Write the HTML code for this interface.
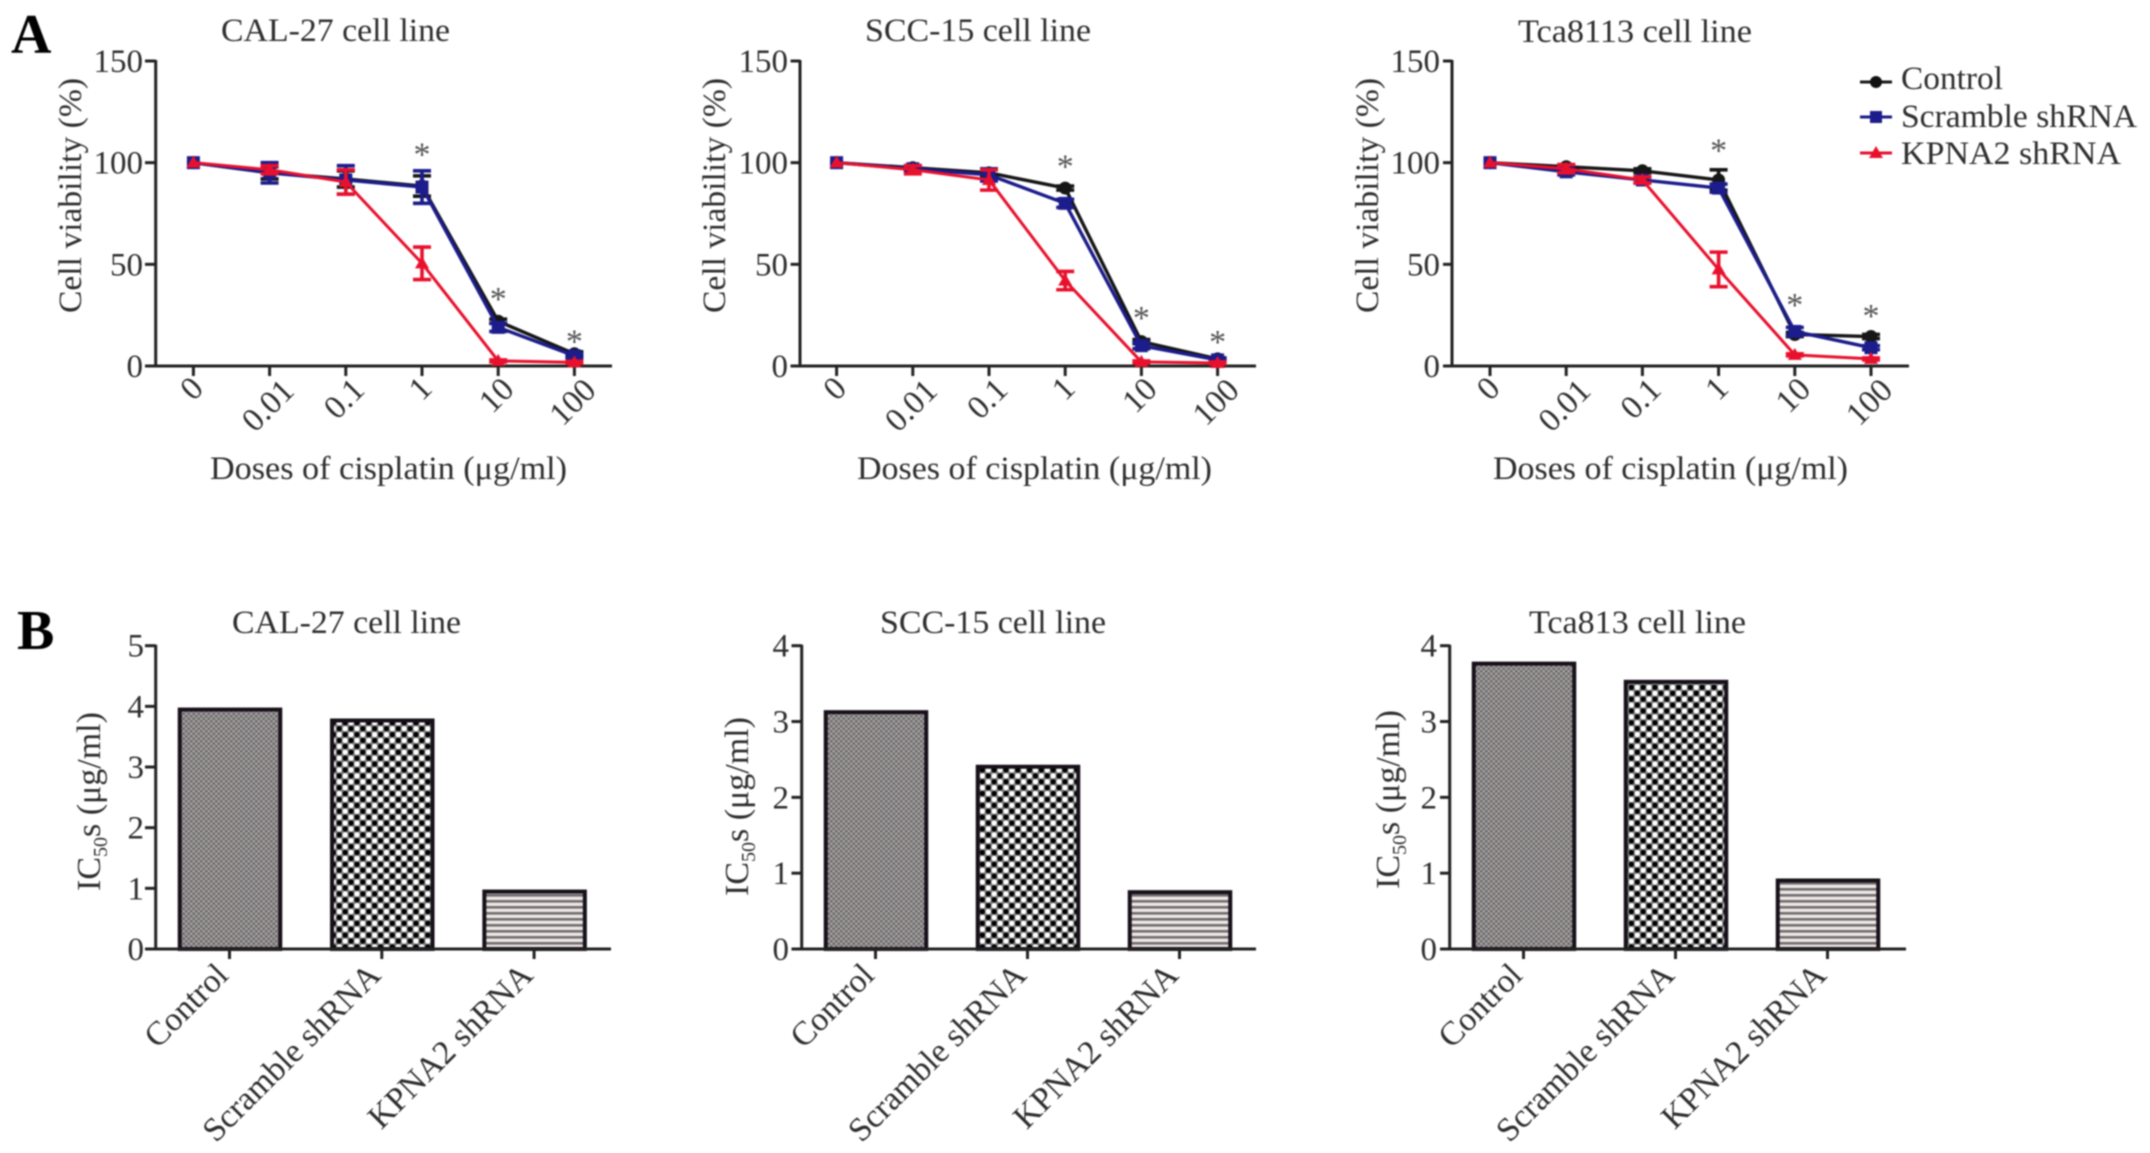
<!DOCTYPE html>
<html lang="en">
<head>
<meta charset="utf-8">
<title>Cisplatin cell viability and IC50 charts</title>
<style>
html,body{margin:0;padding:0;background:#fff;width:2150px;height:1153px;overflow:hidden}
svg{display:block;filter:blur(0.7px)}
text{font-family:"Liberation Serif","Noto Serif CJK SC",serif;fill:#2e2e2e}
.title{font-size:33px}
.axt{font-size:33px}
.tick{font-size:33px}
.leg{font-size:33px}
.letter{font-size:56px;font-weight:bold;fill:#000}
</style>
</head>
<body>
<svg id="fig" xmlns="http://www.w3.org/2000/svg" width="2150" height="1153" viewBox="0 0 2150 1153">
  <defs>
    <pattern id="pat-fine" width="5" height="5" patternUnits="userSpaceOnUse">
      <rect width="5" height="5" fill="#a8a2a3"/>
      <rect width="2.5" height="2.5" fill="#6a6a6a"/>
      <rect x="2.5" y="2.5" width="2.5" height="2.5" fill="#6a6a6a"/>
    </pattern>
    <pattern id="pat-dots" width="11.8" height="11.8" patternUnits="userSpaceOnUse">
      <rect width="11.8" height="11.8" fill="#7d7d7d"/>
      <circle cx="2.95" cy="2.95" r="2.7" fill="#000"/>
      <circle cx="8.85" cy="8.85" r="2.7" fill="#000"/>
      <circle cx="8.85" cy="2.95" r="2.7" fill="#fff"/>
      <circle cx="2.95" cy="8.85" r="2.7" fill="#fff"/>
    </pattern>
    <pattern id="pat-lines" width="6" height="6" patternUnits="userSpaceOnUse">
      <rect width="6" height="6" fill="#efe4e4"/>
      <rect y="0" width="6" height="2.6" fill="#6e6e6e"/>
    </pattern>
  </defs>
  <rect width="2150" height="1153" fill="#fff"/>

  <text class="letter" x="11" y="53">A</text>
  <text class="letter" x="17" y="649">B</text>

  <text class="title" x="221" y="41" textLength="229" lengthAdjust="spacingAndGlyphs">CAL-27 cell line</text>
  <text class="title" x="865" y="41" textLength="226" lengthAdjust="spacingAndGlyphs">SCC-15 cell line</text>
  <text class="title" x="1518" y="42" textLength="234" lengthAdjust="spacingAndGlyphs">Tca8113 cell line</text>
  <text class="title" x="232" y="633" textLength="229" lengthAdjust="spacingAndGlyphs">CAL-27 cell line</text>
  <text class="title" x="880" y="633" textLength="226" lengthAdjust="spacingAndGlyphs">SCC-15 cell line</text>
  <text class="title" x="1529" y="633" textLength="217" lengthAdjust="spacingAndGlyphs">Tca813 cell line</text>

  <text class="axt" x="210" y="479" textLength="357" lengthAdjust="spacingAndGlyphs">Doses of cisplatin (μg/ml)</text>
  <text class="axt" x="857" y="479" textLength="355" lengthAdjust="spacingAndGlyphs">Doses of cisplatin (μg/ml)</text>
  <text class="axt" x="1493" y="479" textLength="355" lengthAdjust="spacingAndGlyphs">Doses of cisplatin (μg/ml)</text>

  <text class="axt" transform="translate(81,313) rotate(-90)" textLength="235" lengthAdjust="spacingAndGlyphs">Cell viability (%)</text>
  <text class="axt" transform="translate(725,313) rotate(-90)" textLength="235" lengthAdjust="spacingAndGlyphs">Cell viability (%)</text>
  <text class="axt" transform="translate(1378,313) rotate(-90)" textLength="235" lengthAdjust="spacingAndGlyphs">Cell viability (%)</text>

  <text class="axt" style="font-size:34px" transform="translate(100,891) rotate(-90)">IC<tspan font-size="20" dy="7">50</tspan><tspan dy="-7">s (μg/ml)</tspan></text>
  <text class="axt" style="font-size:34px" transform="translate(748,896) rotate(-90)">IC<tspan font-size="20" dy="7">50</tspan><tspan dy="-7">s (μg/ml)</tspan></text>
  <text class="axt" style="font-size:34px" transform="translate(1399,889) rotate(-90)">IC<tspan font-size="20" dy="7">50</tspan><tspan dy="-7">s (μg/ml)</tspan></text>

  <g id="legend">
    <g>
      <line x1="1860" x2="1892" y1="82" y2="82" stroke="#1a1a1a" stroke-width="3"/>
      <circle cx="1876" cy="82" r="6" fill="#111"/>
      <text class="leg" x="1901" y="89" textLength="102" lengthAdjust="spacingAndGlyphs">Control</text>
    </g>
    <g>
      <line x1="1860" x2="1892" y1="117" y2="117" stroke="#1c1c8c" stroke-width="3"/>
      <rect x="1870" y="111" width="12" height="12" fill="#1c1c8c"/>
      <text class="leg" x="1901" y="127" textLength="236" lengthAdjust="spacingAndGlyphs">Scramble shRNA</text>
    </g>
    <g>
      <line x1="1860" x2="1892" y1="153" y2="153" stroke="#e8112d" stroke-width="3"/>
      <polygon points="1876,146 1883,158 1869,158" fill="#e8112d"/>
      <text class="leg" x="1901" y="164" textLength="220" lengthAdjust="spacingAndGlyphs">KPNA2 shRNA</text>
    </g>
  </g>
</svg>

<script>
// ---- shared categories and ticks ----
const doseCategories = ["0", "0.01", "0.1", "1", "10", "100"];
const viabilityTicks = [0, 50, 100, 150];
const groupCategories = ["Control", "Scramble shRNA", "KPNA2 shRNA"];
const ic50TicksCal27 = [0, 1, 2, 3, 4, 5];
const ic50TicksScc15 = [0, 1, 2, 3, 4];
const ic50TicksTca813 = [0, 1, 2, 3, 4];

// ---- panel A: CAL-27 ----
const cal27Control = [100, 95, 92, 88.5, 22, 6];
const cal27ControlErr = [0, 3, 4, 5, 1, 1];
const cal27Scramble = [100, 95, 91.5, 88, 19, 5];
const cal27ScrambleErr = [0, 5, 7, 8, 2, 1];
const cal27Kpna2 = [100, 96.5, 90.5, 50.5, 2.5, 1.8];
const cal27Kpna2Err = [0, 2, 6, 8, 0.5, 0.5];
const cal27Stars = [null, null, null, 106, 35, 14];

// ---- panel A: SCC-15 ----
const scc15Control = [100, 97.5, 95, 87.5, 12, 3.5];
const scc15ControlErr = [0, 1, 2, 1, 1, 0.5];
const scc15Scramble = [100, 97, 94, 80, 10, 3];
const scc15ScrambleErr = [0, 1, 3, 2, 1.5, 0.5];
const scc15Kpna2 = [100, 96.5, 91.5, 42, 2, 1.5];
const scc15Kpna2Err = [0, 2, 5, 4.5, 0.5, 0.5];
const scc15Stars = [null, null, null, 100, 25.6, 13.8];

// ---- panel A: Tca8113 ----
const tca8113Control = [100, 98, 96, 91.5, 15.5, 14.5];
const tca8113ControlErr = [0, 1, 1, 5, 1, 1];
const tca8113Scramble = [100, 95.5, 91.5, 87.5, 17, 9];
const tca8113ScrambleErr = [0, 1.5, 1.5, 2, 2, 1];
const tca8113Kpna2 = [100, 97, 91.5, 47.5, 5.5, 3.5];
const tca8113Kpna2Err = [0, 2, 1.5, 8.5, 0.5, 0.5];
const tca8113Stars = [null, null, null, 108, 32, 26.5];

// ---- panel B ----
const ic50Cal27 = [3.98, 3.8, 0.98];
const ic50Scc15 = [3.15, 2.43, 0.776];
const ic50Tca813 = [3.79, 3.55, 0.93];

const svg = document.getElementById('fig');
const NS = 'http://www.w3.org/2000/svg';
function mk(parent, tag, attrs, text) {
  const el = document.createElementNS(NS, tag);
  for (const k in attrs) el.setAttribute(k, attrs[k]);
  if (text !== undefined) el.textContent = text;
  parent.appendChild(el);
  return el;
}
const AXIS = '#222';
const SERIES_COLORS = ['#161616', '#1c1c8c', '#e8112d'];
const SERIES_WIDTHS = [3.4, 3.4, 3];
const SERIES_NAMES = ['control', 'scramble-shrna', 'kpna2-shrna'];

function drawAxes(g, cfg, yScale, ticks, tickX) {
  const yLine = mk(g, 'line', {x1: cfg.axisX, x2: cfg.axisX, y1: yScale(ticks[ticks.length - 1]) - 1, y2: cfg.y0, stroke: AXIS, 'stroke-width': 3});
  
  
  const xLine = mk(g, 'line', {x1: cfg.axisLeft, x2: cfg.axisRight, y1: cfg.y0, y2: cfg.y0, stroke: AXIS, 'stroke-width': 3});
  
  
  ticks.forEach(function (t) {
    const mark = mk(g, 'line', {x1: cfg.axisLeft, x2: cfg.axisX, y1: yScale(t), y2: yScale(t), stroke: AXIS, 'stroke-width': 3});
    
    
    const label = mk(g, 'text', {class: 'tick', x: cfg.labelRight, y: yScale(t) + 11, 'text-anchor': 'end'}, String(t));
    
    
  });
  tickX.forEach(function (px) {
    const mark = mk(g, 'line', {x1: px, x2: px, y1: cfg.y0, y2: cfg.y0 + 10, stroke: AXIS, 'stroke-width': 3});
    
    
  });
}

function drawMarker(g, kind, cx, cy, color) {
  let m;
  if (kind === 0) {
    m = mk(g, 'circle', {cx: cx, cy: cy, r: 6.5, fill: color});
  } else if (kind === 1) {
    m = mk(g, 'rect', {x: cx - 6.5, y: cy - 6.5, width: 13, height: 13, fill: color});
  } else {
    m = mk(g, 'polygon', {points: (cx) + ',' + (cy - 7) + ' ' + (cx + 7) + ',' + (cy + 5) + ' ' + (cx - 7) + ',' + (cy + 5), fill: color});
  }
  
  
}

function drawLineChart(cfg) {
  const g = mk(svg, 'g', {});
  
  
  const yScale = function (v) { return cfg.y0 - (v / 150) * (cfg.y0 - cfg.yTop); };
  const xScale = function (i) { return cfg.x0 + i * cfg.step; };
  const tickX = doseCategories.map(function (_, i) { return xScale(i); });
  drawAxes(g, cfg, yScale, viabilityTicks, tickX);

  doseCategories.forEach(function (c, i) {
    const lab = mk(g, 'text', {class: 'tick', 'text-anchor': 'middle'}, c);
    const w = lab.getComputedTextLength();
    const cx = xScale(i) - 2;
    const cy = 381.5 + 0.41 * w;
    lab.setAttribute('transform', 'translate(' + cx + ',' + cy + ') rotate(-45) translate(0,11)');
    
    
  });

  cfg.series.forEach(function (s, k) {
    const color = SERIES_COLORS[k];
    const sg = mk(g, 'g', {});
    
    
    const pts = s.values.map(function (v, i) { return xScale(i) + ',' + yScale(v); }).join(' ');
    const line = mk(sg, 'polyline', {points: pts, fill: 'none', stroke: color, 'stroke-width': SERIES_WIDTHS[k], 'stroke-linejoin': 'round'});
    
    
    s.values.forEach(function (v, i) {
      const e = s.err[i];
      if (e > 0) {
        const px = xScale(i);
        const bar = mk(sg, 'path', {
          d: 'M' + px + ' ' + yScale(v + e) + 'V' + yScale(v - e) +
             'M' + (px - 9) + ' ' + yScale(v + e) + 'H' + (px + 9) +
             'M' + (px - 9) + ' ' + yScale(v - e) + 'H' + (px + 9),
          fill: 'none', stroke: color, 'stroke-width': 3.6});
        
        
      }
      drawMarker(sg, k, xScale(i), yScale(v), color);
    });
  });

  cfg.stars.forEach(function (v, i) {
    if (v === null) return;
    const st = mk(g, 'text', {x: xScale(i), y: yScale(v) + 15, 'text-anchor': 'middle', style: 'font-size:34px;fill:#555'}, '*');
    
    
  });
}

function drawBarChart(cfg) {
  const g = mk(svg, 'g', {});
  
  
  const top = cfg.ticks[cfg.ticks.length - 1];
  const yScale = function (v) { return cfg.y0 - (v / top) * (cfg.y0 - cfg.yTop); };
  const xScale = function (i) { return cfg.x0 + i * cfg.step; };
  const tickX = groupCategories.map(function (_, i) { return xScale(i); });
  const fills = ['url(#pat-fine)', 'url(#pat-dots)', 'url(#pat-lines)'];
  const barW = 100.5;
  cfg.values.forEach(function (v, i) {
    const bar = mk(g, 'rect', {x: xScale(i) - barW / 2 + 0.5, y: yScale(v) + 2, width: barW, height: cfg.y0 - yScale(v) - 2, fill: fills[i], stroke: '#17101a', 'stroke-width': 4});
    
    
  });
  drawAxes(g, cfg, yScale, cfg.ticks, tickX);
  groupCategories.forEach(function (c, i) {
    const lab = mk(g, 'text', {class: 'tick', style: 'font-size:33.5px', 'text-anchor': 'end', transform: 'translate(' + (xScale(i) + 0.5) + ',977) rotate(-45)'}, c);
    
    
  });
}

drawLineChart({
  name: 'chart-cal27-viability', axisX: 155.7, axisLeft: 145, axisRight: 612, labelRight: 143,
  x0: 193.4, step: 76.2, y0: 366, yTop: 61, stars: cal27Stars,
  series: [
    {values: cal27Control, err: cal27ControlErr},
    {values: cal27Scramble, err: cal27ScrambleErr},
    {values: cal27Kpna2, err: cal27Kpna2Err}
  ]
});
drawLineChart({
  name: 'chart-scc15-viability', axisX: 800, axisLeft: 790.6, axisRight: 1256, labelRight: 788,
  x0: 836.6, step: 76.2, y0: 366, yTop: 61, stars: scc15Stars,
  series: [
    {values: scc15Control, err: scc15ControlErr},
    {values: scc15Scramble, err: scc15ScrambleErr},
    {values: scc15Kpna2, err: scc15Kpna2Err}
  ]
});
drawLineChart({
  name: 'chart-tca8113-viability', axisX: 1452, axisLeft: 1443, axisRight: 1909, labelRight: 1440,
  x0: 1490, step: 76.2, y0: 366, yTop: 61, stars: tca8113Stars,
  series: [
    {values: tca8113Control, err: tca8113ControlErr},
    {values: tca8113Scramble, err: tca8113ScrambleErr},
    {values: tca8113Kpna2, err: tca8113Kpna2Err}
  ]
});
drawBarChart({
  name: 'chart-cal27-ic50', axisX: 155.7, axisLeft: 145, axisRight: 611, labelRight: 144,
  x0: 229.5, step: 152.3, y0: 949, yTop: 645.7, ticks: ic50TicksCal27, values: ic50Cal27
});
drawBarChart({
  name: 'chart-scc15-ic50', axisX: 801.7, axisLeft: 791.5, axisRight: 1256, labelRight: 789,
  x0: 875.5, step: 152, y0: 949, yTop: 645.7, ticks: ic50TicksScc15, values: ic50Scc15
});
drawBarChart({
  name: 'chart-tca813-ic50', axisX: 1449.7, axisLeft: 1440, axisRight: 1906, labelRight: 1437,
  x0: 1523.5, step: 152, y0: 949, yTop: 645.7, ticks: ic50TicksTca813, values: ic50Tca813
});
</script>
</body>
</html>
